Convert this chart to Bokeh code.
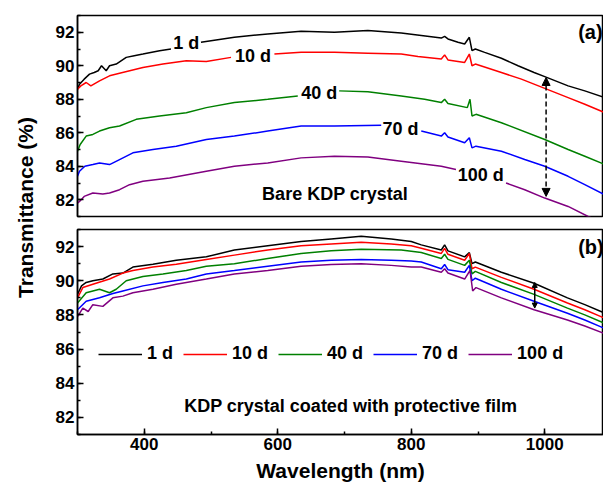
import math
from bokeh.plotting import figure
from bokeh.layouts import row, column
from bokeh.models import (Range1d, SingleIntervalTicker, Label, Legend, LegendItem,
                          Arrow, NormalHead)
from bokeh.embed import file_html
from bokeh.resources import INLINE

NaN = float("nan")

# ---------------- panel (a): bare KDP crystal ----------------
a_1d_w = [300, 303, 310, 318, 325, 331, 336, 343, 348, 358, 373, 385, 398, 423, 440, 441,
          485, 535, 585, 635, 685, 735, 785, 815, 845, 850, 855, 870, 880, 887, 891, 896,
          910, 935, 960, 984, 1000, 1035, 1060, 1090]
a_1d_v = [88.6, 88.9, 89.2, 89.5, 89.6, 89.7, 90.0, 89.7, 90.0, 90.1, 90.5, 90.6, 90.7, 90.9, 91.0, NaN,
          91.4, 91.7, 91.9, 92.06, 92.0, 92.1, 91.95, 91.8, 91.65, 91.75, 91.6, 91.4, 91.3, 91.7, 90.9, 91.0,
          90.8, 90.45, 90.0, 89.6, 89.35, 88.8, 88.5, 88.1]

a_10d_w = [300, 305, 313, 320, 333, 348, 363, 398, 428, 463, 493, 530, 531,
           595, 635, 685, 735, 785, 810, 845, 850, 855, 880, 887, 891, 896, 935, 965, 1000, 1035, 1060, 1090]
a_10d_v = [88.6, 88.8, 89.0, 88.8, 89.1, 89.4, 89.55, 89.9, 90.1, 90.3, 90.25, 90.5, NaN,
           90.7, 90.8, 90.8, 90.75, 90.7, 90.55, 90.4, 90.65, 90.35, 90.2, 90.7, 90.0, 90.1, 89.6, 89.2, 88.65, 88.1, 87.7, 87.2]

a_40d_w = [300, 304, 313, 323, 333, 348, 363, 388, 423, 463, 493, 535, 585, 630, 631,
           692, 735, 785, 820, 845, 850, 855, 884, 888, 891, 897, 935, 1000, 1035, 1060, 1090]
a_40d_v = [84.9, 85.3, 85.8, 85.9, 86.1, 86.3, 86.4, 86.8, 87.0, 87.2, 87.5, 87.8, 88.0, 88.2, NaN,
           88.5, 88.45, 88.2, 88.0, 87.8, 88.0, 87.75, 87.5, 88.0, 87.0, 87.1, 86.6, 85.6, 85.0, 84.6, 84.1]

a_70d_w = [300, 303, 311, 323, 333, 348, 363, 383, 413, 448, 493, 535, 585, 635, 685, 755, 756,
           815, 845, 850, 855, 880, 887, 891, 897, 935, 970, 1000, 1035, 1060, 1090]
a_70d_v = [83.4, 83.7, 84.0, 84.1, 84.2, 84.1, 84.4, 84.8, 85.0, 85.2, 85.6, 85.8, 86.1, 86.4, 86.4, 86.45, NaN,
           86.1, 85.8, 86.0, 85.75, 85.4, 85.7, 85.1, 85.2, 84.9, 84.4, 84.0, 83.4, 82.9, 82.3]

a_100d_w = [300, 303, 310, 323, 338, 348, 363, 378, 398, 438, 493, 535, 585, 635, 685, 735, 785, 845, 867, 868,
            942, 970, 1000, 1035, 1065, 1090]
a_100d_v = [81.8, 81.9, 82.2, 82.4, 82.35, 82.4, 82.6, 82.9, 83.1, 83.3, 83.7, 84.0, 84.2, 84.5, 84.6, 84.55, 84.3, 84.0, 83.8, NaN,
            83.0, 82.6, 82.1, 81.6, 81.0, 80.6]

# ---------------- panel (b): KDP crystal with protective film ----------------
b_1d_w = [300, 306, 313, 323, 338, 353, 368, 383, 413, 448, 493, 535, 585, 635, 680, 725, 770, 800,
          815, 845, 850, 855, 880, 887, 891, 896, 935, 984, 1034, 1060, 1090]
b_1d_v = [89.2, 89.7, 89.9, 90.0, 90.1, 90.4, 90.45, 90.8, 90.97, 91.2, 91.4, 91.8, 92.05, 92.3, 92.45, 92.6, 92.45, 92.3,
          92.1, 91.8, 92.1, 91.75, 91.4, 91.65, 91.0, 91.1, 90.5, 89.85, 89.0, 88.6, 88.1]

b_10d_w = [300, 308, 323, 348, 368, 383, 413, 448, 493, 535, 585, 635, 680, 725, 770, 800,
           815, 845, 850, 855, 880, 887, 891, 896, 935, 984, 1034, 1060, 1090]
b_10d_v = [89.0, 89.6, 89.8, 90.1, 90.45, 90.6, 90.8, 90.97, 91.25, 91.5, 91.8, 92.05, 92.15, 92.25, 92.15, 92.05,
           91.9, 91.6, 91.9, 91.55, 91.2, 91.6, 90.7, 90.8, 90.2, 89.5, 88.7, 88.3, 87.8]

b_40d_w = [300, 313, 333, 348, 358, 373, 398, 428, 463, 493, 535, 585, 635, 680, 725, 785,
           815, 845, 850, 855, 880, 887, 891, 896, 935, 984, 1034, 1060, 1090]
b_40d_v = [88.7, 89.3, 89.5, 89.3, 89.5, 90.0, 90.25, 90.4, 90.6, 90.85, 91.0, 91.3, 91.6, 91.75, 91.85, 91.8,
           91.65, 91.3, 91.55, 91.25, 90.9, 91.2, 90.4, 90.55, 89.9, 89.2, 88.4, 88.0, 87.5]

b_70d_w = [300, 313, 333, 353, 368, 398, 428, 463, 493, 535, 585, 635, 680, 725, 770, 800,
           815, 845, 850, 855, 880, 887, 891, 896, 935, 984, 1034, 1060, 1090]
b_70d_v = [88.3, 88.8, 89.0, 89.25, 89.4, 89.7, 89.9, 90.1, 90.4, 90.6, 90.85, 91.1, 91.2, 91.25, 91.2, 91.15,
           91.1, 90.7, 90.95, 90.65, 90.5, 90.9, 90.0, 90.15, 89.5, 88.8, 88.1, 87.7, 87.2]

b_100d_w = [300, 308, 316, 323, 338, 353, 368, 383, 413, 448, 493, 535, 585, 635, 680, 725, 770, 800,
            815, 845, 850, 855, 880, 888, 892, 897, 935, 984, 1034, 1060, 1090]
b_100d_v = [87.9, 88.4, 88.2, 88.6, 88.5, 89.0, 89.1, 89.3, 89.5, 89.8, 90.1, 90.4, 90.6, 90.85, 90.95, 91.0, 90.9, 90.8,
            90.8, 90.5, 90.7, 90.45, 90.1, 90.6, 89.4, 89.6, 89.0, 88.3, 87.7, 87.35, 86.9]

series_labels = ["1 d", "10 d", "40 d", "70 d", "100 d"]
colors = ["#000000", "#FF0000", "#008000", "#0000FF", "#800080"]
a_series = [(a_1d_w, a_1d_v), (a_10d_w, a_10d_v), (a_40d_w, a_40d_v), (a_70d_w, a_70d_v), (a_100d_w, a_100d_v)]
b_series = [(b_1d_w, b_1d_v), (b_10d_w, b_10d_v), (b_40d_w, b_40d_v), (b_70d_w, b_70d_v), (b_100d_w, b_100d_v)]

FONT = "Liberation Sans"
TICK_SIZE = "17px"
TEXT_SIZE = "18px"

x_range = Range1d(300, 1088)


def style_axis(ax):
    ax.axis_line_width = 1.5
    ax.axis_line_color = "black"
    ax.major_tick_line_width = 1.5
    ax.minor_tick_line_width = 1.5
    ax.major_tick_line_color = "black"
    ax.minor_tick_line_color = "black"
    ax.major_tick_in = 6
    ax.major_tick_out = 0
    ax.minor_tick_in = 3
    ax.minor_tick_out = 0
    ax.major_label_text_font = FONT
    ax.major_label_text_font_style = "bold"
    ax.major_label_text_font_size = TICK_SIZE
    ax.major_label_text_color = "black"
    ax.major_label_standoff = 3


def style(p, show_x):
    p.grid.visible = False
    p.outline_line_color = "black"
    p.outline_line_width = 1.5
    p.background_fill_color = "white"
    p.border_fill_color = "white"
    p.yaxis.ticker = SingleIntervalTicker(interval=2, num_minor_ticks=2)
    for ax in p.yaxis:
        style_axis(ax)
    if show_x:
        p.xaxis.ticker = SingleIntervalTicker(interval=200, num_minor_ticks=2)
        for ax in p.xaxis:
            style_axis(ax)
            ax.axis_label = "Wavelength (nm)"
            ax.axis_label_text_font = FONT
            ax.axis_label_text_font_style = "bold"
            ax.axis_label_text_font_size = "21px"
            ax.axis_label_text_color = "black"
            ax.axis_label_standoff = 6
    else:
        p.xaxis.visible = False


def text_label(p, x, y, txt, align="center", size=TEXT_SIZE):
    p.add_layout(Label(x=x, y=y, text=txt, text_font=FONT, text_font_style="bold",
                       text_font_size=size, text_align=align, text_baseline="middle",
                       text_color="black"))


# ---- top panel ----
p1 = figure(width=563, height=223, x_range=x_range, y_range=Range1d(81, 93),
            output_backend="svg", toolbar_location=None,
            min_border_left=37, min_border_right=0, min_border_top=15, min_border_bottom=7)
style(p1, False)
for (w, v), c in zip(a_series, colors):
    p1.line(w, v, line_color=c, line_width=1.5)

text_label(p1, 463, 91.35, "1 d")
text_label(p1, 563, 90.6, "10 d")
text_label(p1, 662, 88.4, "40 d")
text_label(p1, 784, 86.2, "70 d")
text_label(p1, 904, 83.5, "100 d")
text_label(p1, 686, 82.35, "Bare KDP crystal")
text_label(p1, 1050, 92.0, "(a)", align="left", size="20px")

p1.add_layout(Arrow(x_start=1002, y_start=89.3, x_end=1002, y_end=82.2,
                    line_dash="5 3", line_width=1.5, line_color="black",
                    start=NormalHead(size=8, fill_color="black", line_color="black"),
                    end=NormalHead(size=8, fill_color="black", line_color="black")))

# ---- bottom panel ----
p2 = figure(width=563, height=261, x_range=x_range, y_range=Range1d(81, 93),
            output_backend="svg", toolbar_location=None,
            min_border_left=37, min_border_right=0, min_border_top=6, min_border_bottom=10)
style(p2, True)
items = []
for (w, v), c, lab in zip(b_series, colors, series_labels):
    r = p2.line(w, v, line_color=c, line_width=1.5)
    items.append(LegendItem(label=lab, renderers=[r]))

legend = Legend(items=items, orientation="horizontal", location=(21, 70),
                glyph_width=44, glyph_height=20, label_standoff=5, spacing=10,
                padding=0, margin=0, border_line_alpha=0, background_fill_alpha=0,
                label_text_font=FONT, label_text_font_style="bold",
                label_text_font_size=TEXT_SIZE, label_text_color="black")
p2.add_layout(legend)

text_label(p2, 713, 82.68, "KDP crystal coated with  protective film")
text_label(p2, 1050, 92.0, "(b)", align="left", size="20px")

p2.add_layout(Arrow(x_start=985, y_start=89.9, x_end=985, y_end=88.4,
                    line_width=1.5, line_color="black",
                    start=NormalHead(size=5, fill_color="black", line_color="black"),
                    end=NormalHead(size=5, fill_color="black", line_color="black")))

# ---- shared y label ----
pl = figure(width=40, height=484, output_backend="svg", toolbar_location=None,
            min_border=0, x_range=Range1d(0, 1), y_range=Range1d(0, 1))
pl.axis.visible = False
pl.grid.visible = False
pl.outline_line_color = None
pl.add_layout(Label(x=25, y=484 - 207, x_units="screen", y_units="screen",
                    text="Transmittance (%)", angle=math.pi / 2,
                    text_font=FONT, text_font_style="bold", text_font_size="21px",
                    text_align="center", text_baseline="middle", text_color="black"))

layout = row(pl, column(p1, p2))
open("out.html", "w").write(file_html(layout, INLINE))
